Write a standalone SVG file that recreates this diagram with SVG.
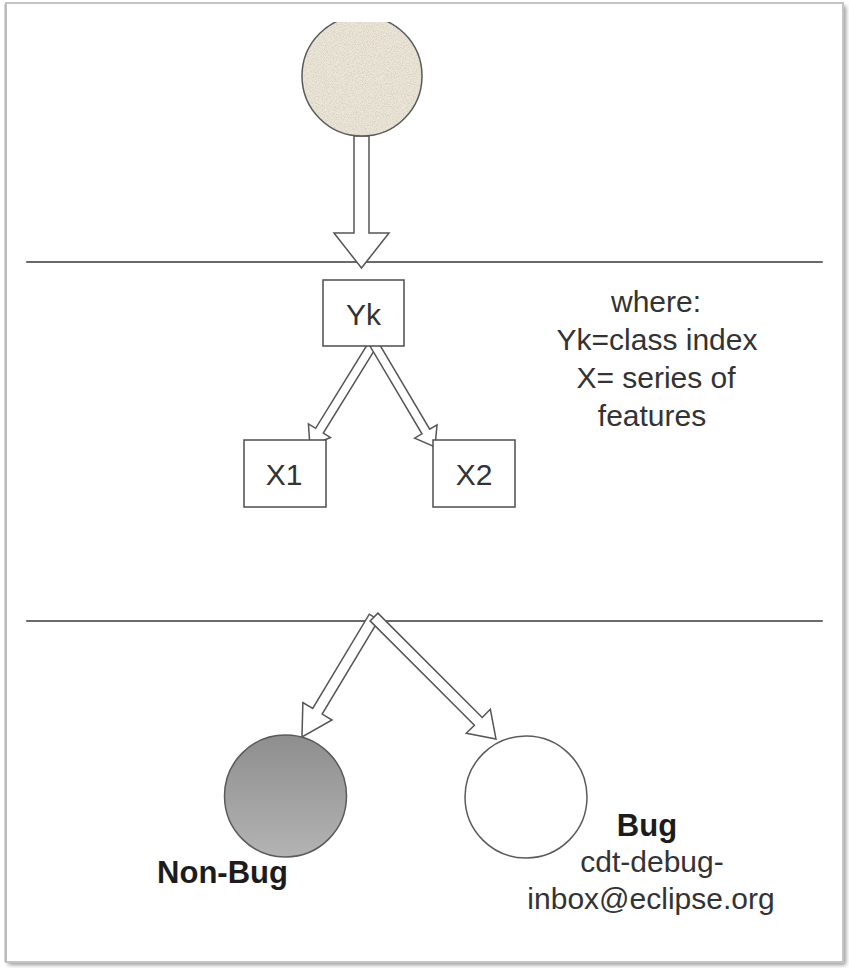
<svg xmlns="http://www.w3.org/2000/svg" width="849" height="968" viewBox="0 0 849 968">
  <style>
    .lbl { font-family: "Liberation Sans", Arial, sans-serif; font-size: 30px; fill: #333333; text-anchor: middle; }
    .bold { font-weight: bold; fill: #1c1c1c; font-size: 31px; }
    .box { fill: #ffffff; stroke: #4d4d4d; stroke-width: 1.5; }
    .arrow { fill: #ffffff; stroke: #555555; stroke-width: 1.5; stroke-linejoin: miter; }
    .rule { stroke: #6a6a6a; stroke-width: 2.2; stroke-linecap: round; }
  </style>
  <defs>
    <linearGradient id="greyBall" x1="0" y1="0" x2="0" y2="1">
      <stop offset="0" stop-color="#8e8e8e"/>
      <stop offset="1" stop-color="#b3b3b3"/>
    </linearGradient>
    <filter id="speckle" x="0" y="0" width="100%" height="100%">
      <feTurbulence type="fractalNoise" baseFrequency="0.9" numOctaves="2" seed="7" result="noise"/>
      <feColorMatrix in="noise" type="matrix" values="0 0 0 0 0.70  0 0 0 0 0.66  0 0 0 0 0.56  4 0 0 0 -1.75" result="dots"/>
      <feComposite in="dots" in2="SourceGraphic" operator="in" result="clipped"/>
      <feMerge>
        <feMergeNode in="SourceGraphic"/>
        <feMergeNode in="clipped"/>
      </feMerge>
    </filter>
    <filter id="frameShadow" x="-5%" y="-5%" width="110%" height="110%">
      <feGaussianBlur stdDeviation="2"/>
    </filter>
    <clipPath id="topCut">
      <rect x="0" y="22" width="849" height="200"/>
    </clipPath>
  </defs>

  <!-- page background and sheet frame -->
  <rect x="0" y="0" width="849" height="968" fill="#ffffff"/>
  <rect x="8" y="6" width="838" height="959" fill="#9a9a9a" filter="url(#frameShadow)"/>
  <rect x="6" y="3" width="837" height="959" fill="#ffffff" stroke="#c4c4c4" stroke-width="2"/>
  <line x1="5.5" y1="4" x2="5.5" y2="962" stroke="#b8b8b8" stroke-width="2"/>

  <!-- section rules -->
  <line class="rule" x1="27" y1="262" x2="822" y2="262"/>
  <line class="rule" x1="27" y1="621" x2="822" y2="621"/>

  <!-- connectors -->
  <g id="connectors">
    <polygon class="arrow" points="369,136 369,233 389,233 361.5,268 334,233 354,233 354,136"/>
    <polygon class="arrow" points="376.83,346.36 323.29,433.05 330.52,437.52 310,446 308.40,423.86 315.63,428.33 369.17,341.64"/>
    <polygon class="arrow" points="377.87,341.71 429.70,429.22 437.02,424.89 435,447 414.64,438.13 421.96,433.80 370.13,346.29"/>
    <polygon class="arrow" points="378.72,619.83 322.16,714.10 332.02,720.02 302,737 302.86,702.52 312.72,708.44 369.28,614.17"/>
    <polygon class="arrow" points="377.89,613.11 482.21,717.43 490.34,709.30 496,739 466.30,733.34 474.43,725.21 370.11,620.89"/>
  </g>

  <!-- source node -->
  <g id="source" clip-path="url(#topCut)">
    <circle cx="362" cy="76" r="60" fill="#ebe5d8" filter="url(#speckle)"/>
    <circle cx="362" cy="76" r="60" fill="none" stroke="#5a5a5a" stroke-width="1.5"/>
  </g>

  <!-- class node -->
  <g id="yk">
    <rect class="box" x="323" y="280" width="81" height="66"/>
    <text class="lbl" x="363.5" y="325">Yk</text>
  </g>

  <!-- feature nodes -->
  <g id="x1">
    <rect class="box" x="244" y="440" width="82" height="67"/>
    <text class="lbl" x="284" y="485">X1</text>
  </g>
  <g id="x2">
    <rect class="box" x="433" y="440" width="82" height="67"/>
    <text class="lbl" x="474" y="485">X2</text>
  </g>

  <!-- legend -->
  <g id="legend">
    <text class="lbl" x="656" y="312">where:</text>
    <text class="lbl" x="657" y="350">Yk=class index</text>
    <text class="lbl" x="656" y="388">X= series of</text>
    <text class="lbl" x="652" y="426">features</text>
  </g>

  <!-- outcome nodes -->
  <g id="non-bug">
    <circle cx="285.5" cy="796" r="61" fill="url(#greyBall)" stroke="#5a5a5a" stroke-width="1.5"/>
    <text class="lbl bold" x="222.5" y="883">Non-Bug</text>
  </g>
  <g id="bug">
    <circle cx="526" cy="797" r="61" fill="#ffffff" stroke="#5a5a5a" stroke-width="1.5"/>
    <text class="lbl bold" x="647" y="836">Bug</text>
    <text class="lbl" x="652" y="872">cdt-debug-</text>
    <text class="lbl" x="651" y="909">inbox@eclipse.org</text>
  </g>
</svg>
